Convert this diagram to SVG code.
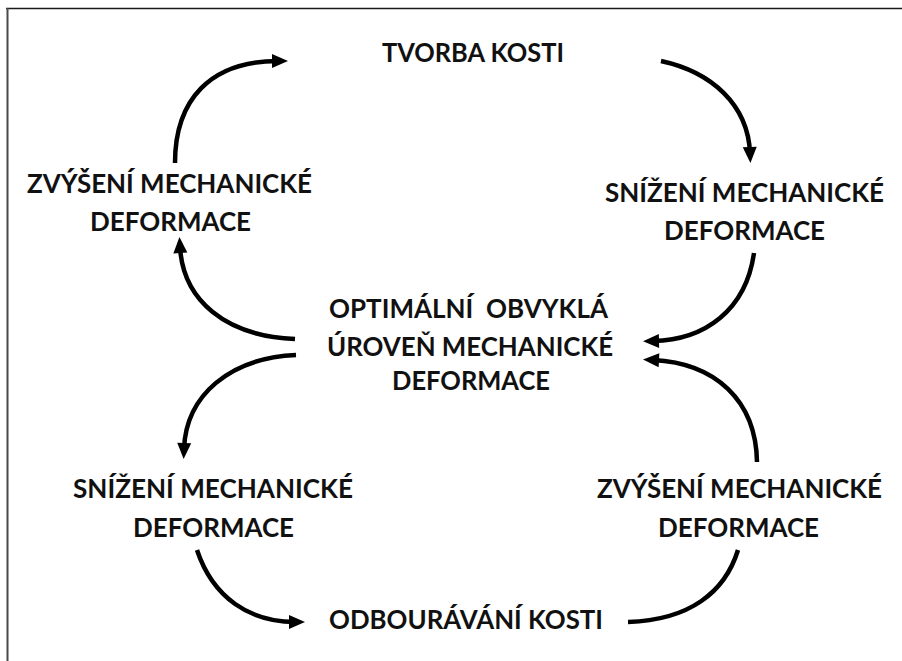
<svg xmlns="http://www.w3.org/2000/svg" width="902" height="661" viewBox="0 0 902 661">
<style>
  .t { font-family: Lato, "Open Sans", "Liberation Sans", sans-serif; font-weight: bold; font-size: 27.5px; fill: #111; text-anchor: middle; }
  .c { fill: none; stroke: #000; stroke-width: 4.5; stroke-linecap: butt; }
  .a { marker-end: url(#ah); }
</style>
<defs>
  <marker id="ah" markerUnits="userSpaceOnUse" markerWidth="17" markerHeight="15" refX="6" refY="7" orient="auto" overflow="visible">
    <path d="M0,0 L16,7 L0,14 Z" fill="#000"/>
  </marker>
</defs>
<rect width="902" height="661" fill="#fff"/>
<g id="frame">
  <line x1="6" y1="8.5" x2="902" y2="8.5" stroke="#1a1a1a" stroke-width="1.6"/>
  <line x1="7.5" y1="8" x2="7.5" y2="661" stroke="#4a4a4a" stroke-width="2"/>
</g>
<g id="connectors">
  <path class="c a" d="M175,163 C175,100 210,61 278,61"/>
  <path class="c a" d="M661,61 C712,72 748,105 750,153"/>
  <path class="c a" d="M754,253 C746,310 705,340 653,341"/>
  <path class="c a" d="M757,462 C756,400 715,363 653,360"/>
  <path class="c a" d="M295,339 C225,336 183,300 180,247"/>
  <path class="c a" d="M296,355 C230,358 186,395 184,449"/>
  <path class="c a" d="M197,550 C213,598 250,622 295,622"/>
  <path class="c" d="M628,622 C690,620 725,592 738,550"/>
</g>
<g id="tvorba">
  <text class="t" x="473" y="62" textLength="182" lengthAdjust="spacingAndGlyphs">TVORBA KOSTI</text>
</g>
<g id="zvyseni-top">
  <text class="t" x="169.5" y="193" textLength="285" lengthAdjust="spacingAndGlyphs">ZVÝŠENÍ MECHANICKÉ</text>
  <text class="t" x="170.5" y="231" textLength="161" lengthAdjust="spacingAndGlyphs">DEFORMACE</text>
</g>
<g id="snizeni-top">
  <text class="t" x="744.5" y="202" textLength="279" lengthAdjust="spacingAndGlyphs">SNÍŽENÍ MECHANICKÉ</text>
  <text class="t" x="744.5" y="240" textLength="161" lengthAdjust="spacingAndGlyphs">DEFORMACE</text>
</g>
<g id="optimalni">
  <text class="t" x="468.5" y="318" textLength="279" lengthAdjust="spacingAndGlyphs" xml:space="preserve">OPTIMÁLNÍ  OBVYKLÁ</text>
  <text class="t" x="470" y="356" textLength="286" lengthAdjust="spacingAndGlyphs">ÚROVEŇ MECHANICKÉ</text>
  <text class="t" x="471" y="390" textLength="158" lengthAdjust="spacingAndGlyphs">DEFORMACE</text>
</g>
<g id="snizeni-bottom">
  <text class="t" x="213" y="498" textLength="280" lengthAdjust="spacingAndGlyphs">SNÍŽENÍ MECHANICKÉ</text>
  <text class="t" x="213.5" y="537" textLength="161" lengthAdjust="spacingAndGlyphs">DEFORMACE</text>
</g>
<g id="zvyseni-bottom">
  <text class="t" x="739.5" y="498" textLength="285" lengthAdjust="spacingAndGlyphs">ZVÝŠENÍ MECHANICKÉ</text>
  <text class="t" x="738.5" y="537" textLength="161" lengthAdjust="spacingAndGlyphs">DEFORMACE</text>
</g>
<g id="odbouravani">
  <text class="t" x="466" y="629" textLength="274" lengthAdjust="spacingAndGlyphs">ODBOURÁVÁNÍ KOSTI</text>
</g>
</svg>
